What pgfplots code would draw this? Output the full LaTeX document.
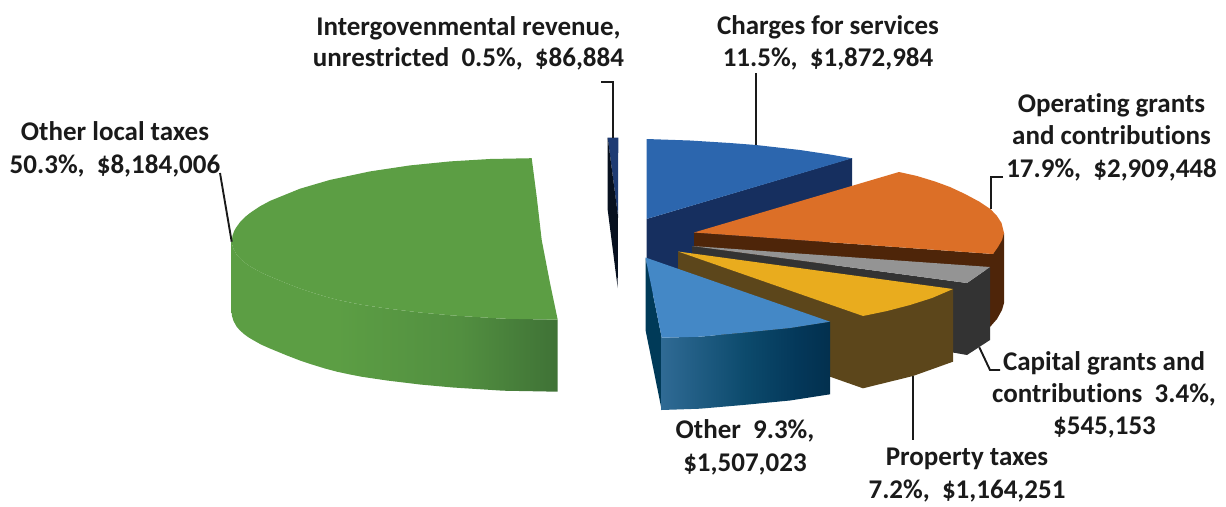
\documentclass[border=0pt]{standalone}
\usepackage{pgfplots}
\pgfplotsset{compat=1.18}
\usepackage{fontspec}
\setmainfont[RawFeature={-liga;-clig}]{Carlito}
\definecolor{blueT}{HTML}{2C66AE}
\definecolor{blueS}{HTML}{162F5F}
\definecolor{sliverT}{HTML}{1E3B73}
\definecolor{sliverS}{HTML}{07101F}
\definecolor{orangeT}{HTML}{DC6F27}
\definecolor{orangeS}{HTML}{4E2509}
\definecolor{greyT}{HTML}{949494}
\definecolor{greyS}{HTML}{333333}
\definecolor{yellowT}{HTML}{E9AC1E}
\definecolor{yellowS}{HTML}{5C461B}
\definecolor{lblueT}{HTML}{4488C6}
\definecolor{lblueS}{HTML}{003A58}
\definecolor{greenT}{HTML}{5C9E44}
\definecolor{greenM}{HTML}{528F40}
\definecolor{greenD}{HTML}{3F7236}
\definecolor{lb1}{HTML}{2F6A94}
\definecolor{lb2}{HTML}{0C4A6C}
\definecolor{lb3}{HTML}{04385A}
\definecolor{lb4}{HTML}{03304E}
\definecolor{leader}{HTML}{1A1A1A}
\pgfdeclarehorizontalshading{greenside}{100bp}{color(0bp)=(greenT); color(41bp)=(greenT); color(60bp)=(greenM); color(75bp)=(greenD); color(100bp)=(greenD)}
\pgfdeclarehorizontalshading{lblueside}{100bp}{color(0bp)=(lb1); color(25bp)=(lb1); color(50bp)=(lb2); color(65bp)=(lb3); color(75bp)=(lb4); color(100bp)=(lb4)}
\newcommand{\lbl}[3]{\node[anchor=base,inner sep=0pt,text=leader,font=\fontsize{27}{30}\selectfont\bfseries] at (axis cs:#1,#2) {#3};}
\begin{document}
\begin{tikzpicture}
\path[use as bounding box] (0,0) rectangle (1226pt,506pt);
\begin{axis}[
  hide axis, scale only axis, width=1226pt, height=506pt,
  xmin=0, xmax=1226, ymin=0, ymax=506, y dir=reverse, clip=false,
  every axis plot/.append style={no marks, draw=none, forget plot},
]
% Other local taxes
\addplot[shading=greenside] coordinates {(231.7,241.7)(232,244)(233.5,249)(236.7,254.7)(240,258.5)(244,262)(248,265)(253,268)(261,272.5)(270,276.5)(287,283.5)(300,288.5)(312,292.5)(325,296.5)(337,299.7)(350,302.5)(362,304.8)(387,308.5)(420,312.5)(453,315.5)(503,318.7)(557.7,319.7)(557.7,391.7)(503,390.7)(453,387.5)(420,384.5)(387,380.5)(362,376.8)(350,374.5)(337,371.7)(325,368.5)(312,364.5)(300,360.5)(287,355.5)(270,348.5)(261,344.5)(253,340)(248,337)(244,334)(240,330.5)(236.7,326.7)(233.5,321)(232,316)(231.7,313.3)};
\addplot[fill=greenT] coordinates {(531.7,158.2)(490,159)(450,161.4)(410,165.4)(370,171.4)(330,179.9)(300,188.7)(270,200.9)(260,206.3)(250,213)(245,217)(240,222.2)(236,227.7)(234,231.3)(232.5,235.7)(231.7,241.7)(232,244)(233.5,249)(236.7,254.7)(240,258.5)(244,262)(248,265)(253,268)(261,272.5)(270,276.5)(287,283.5)(300,288.5)(312,292.5)(325,296.5)(337,299.7)(350,302.5)(362,304.8)(387,308.5)(420,312.5)(453,315.5)(503,318.7)(557.7,319.7)(550,283)(541.7,240)(536.7,196.7)};
% Intergovernmental
\addplot[fill=sliverT] coordinates {(607.7,137.7)(618.3,137.7)(618,216)};
\addplot[fill=sliverS] coordinates {(607.7,137.7)(618,216)(617.7,288)(607.7,210)};
% Charges for services
\addplot[fill=blueS] coordinates {(646.5,219)(852,158)(852,235)(646.5,296)};
\addplot[fill=blueT] coordinates {(646.5,139)(690,140.5)(730,143)(756,145)(800,150)(830,154.5)(852,158.3)(646.5,219)};
% Operating grants
\addplot[fill=orangeS] coordinates {(694,232.5)(993,254)(1004,233)(1004,303)(1002,310)(997,319)(990,327)(990,270)(694,260)};
\addplot[fill=orangeT] coordinates {(694,232.5)(899,172)(917,176)(935,181.5)(950,187)(965,194)(979,201.5)(990.7,209.3)(997,216)(1001.5,223)(1004,233)(1002,240)(998,247)(993,254)};
% Capital grants
\addplot[fill=greyS] coordinates {(692,246)(967,283)(990,267)(990,340)(967,355)(950,352)(692,290)};
\addplot[fill=greyT] coordinates {(692,246)(990,267)(967,283)};
% Property taxes
\addplot[fill=yellowS] coordinates {(678,251.5)(863,316)(953,289)(953,361.7)(913,376)(863,388.3)(830,376.7)(678,322)};
\addplot[fill=yellowT] coordinates {(678,251.5)(953,289)(932,298)(910,305)(887,311)(863,316)};
% Other
\addplot[fill=lblueS] coordinates {(645.5,257.5)(661.7,337.7)(661.7,410)(645.5,330)};
\addplot[shading=lblueside] coordinates {(661.7,337.7)(700,336.7)(743,332.7)(790,328)(830,321.7)(830,394.3)(790,400.5)(743,405)(700,408.7)(661.7,410)};
\addplot[fill=lblueT] coordinates {(645.5,257.5)(830,321.7)(790,328)(743,332.7)(700,336.7)(661.7,337.7)};
% Leaders
\addplot[draw=leader, line width=1.9pt] coordinates {(601,81.7)(612.7,81.7)(612.7,138)};
\addplot[draw=leader, line width=1.9pt] coordinates {(755.7,73)(755.7,145)};
\addplot[draw=leader, line width=1.9pt] coordinates {(1003,177)(991,177)(991,209.3)};
\addplot[draw=leader, line width=1.9pt] coordinates {(979.3,347.3)(990,370)(1000,370)};
\addplot[draw=leader, line width=1.9pt] coordinates {(913,376)(913,440)};
\addplot[draw=leader, line width=1.9pt] coordinates {(220,173)(231.7,241.7)};
% Labels
\lbl{468.5}{35}{Intergovenmental revenue,}
\lbl{468.5}{66}{unrestricted\ \ 0.5\%,\ \ \$86,884}
\lbl{828}{34}{Charges for services}
\lbl{828}{66}{11.5\%,\ \ \$1,872,984}
\lbl{1111.5}{112}{Operating grants}
\lbl{1111.5}{144}{and contributions}
\lbl{1111.5}{177}{17.9\%,\ \ \$2,909,448}
\lbl{115}{140}{Other local taxes}
\lbl{115}{173}{50.3\%,\ \ \$8,184,006}
\lbl{1104}{370.5}{Capital grants and}
\lbl{1104}{402.5}{contributions\ \ 3.4\%,}
\lbl{1104.5}{434}{\$545,153}
\lbl{967}{465}{Property taxes}
\lbl{967}{498}{7.2\%,\ \ \$1,164,251}
\lbl{745}{438}{Other\ \ 9.3\%,}
\lbl{745}{471}{\$1,507,023}
\end{axis}
\end{tikzpicture}
\end{document}
